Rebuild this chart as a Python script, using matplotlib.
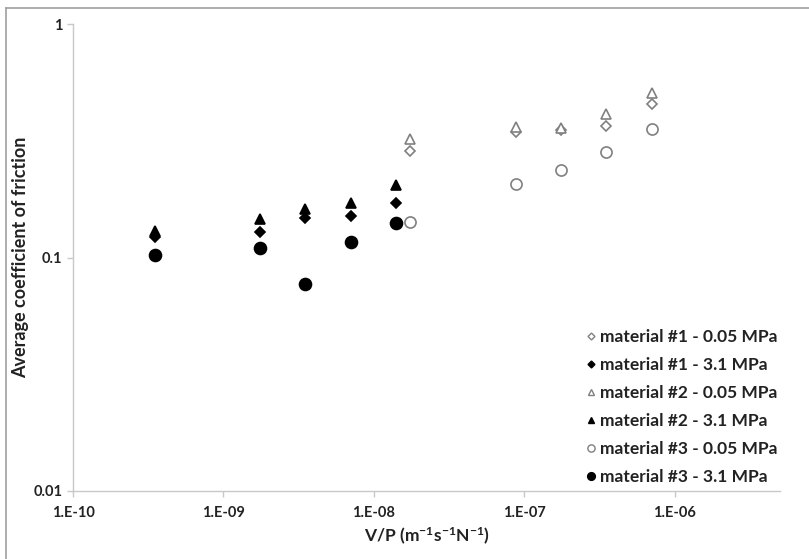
import numpy as np
import matplotlib
matplotlib.use("Agg")
import matplotlib.pyplot as plt
from matplotlib.lines import Line2D
from matplotlib.ticker import FixedLocator, FuncFormatter, NullLocator

# V/P values for the two contact pressures
vp_high = [3.5e-10, 1.75e-9, 3.5e-9, 7e-9, 1.4e-8]    # 3.1 MPa
vp_low = [1.75e-8, 8.75e-8, 1.75e-7, 3.5e-7, 7e-7]   # 0.05 MPa

mat1_low = [0.287, 0.344, 0.352, 0.366, 0.453]
mat1_high = [0.123, 0.128, 0.147, 0.150, 0.171]
mat2_low = [0.321, 0.363, 0.360, 0.412, 0.505]
mat2_high = [0.130, 0.146, 0.161, 0.171, 0.204]
mat3_low = [0.1415, 0.206, 0.237, 0.284, 0.356]
mat3_high = [0.103, 0.1095, 0.077, 0.116, 0.141]

labels = ["material #1 - 0.05 MPa", "material #1 - 3.1 MPa",
          "material #2 - 0.05 MPa", "material #2 - 3.1 MPa",
          "material #3 - 0.05 MPa", "material #3 - 3.1 MPa"]

plt.rcParams['font.family'] = ['Lato', 'DejaVu Sans']
plt.rcParams['mathtext.default'] = 'regular'

fig = plt.figure(figsize=(8.09, 5.59), dpi=100)
ax = fig.add_axes([73 / 809, 1 - 491 / 559, (780 - 73) / 809, (491 - 24) / 559])

gray = '#808080'
series = [
    (vp_low, mat1_low, 'D', 5.4, 'white', gray),
    (vp_high, mat1_high, 'D', 5.4, 'black', 'black'),
    (vp_low, mat2_low, '^', 7.4, 'white', gray),
    (vp_high, mat2_high, '^', 7.4, 'black', 'black'),
    (vp_low, mat3_low, 'o', 8.0, 'white', gray),
    (vp_high, mat3_high, 'o', 8.6, 'black', 'black'),
]
for (x, y, m, ms, fc, ec), lab in zip(series, labels):
    ax.plot(x, y, linestyle='none', marker=m, markersize=ms,
            markerfacecolor=fc, markeredgecolor=ec, markeredgewidth=1.2, label=lab)

ax.set_xscale('log')
ax.set_yscale('log')
ax.set_xlim(1e-10, 5e-6)
ax.set_ylim(0.01, 1)

ax.xaxis.set_major_locator(FixedLocator([1e-10, 1e-9, 1e-8, 1e-7, 1e-6]))
ax.xaxis.set_minor_locator(NullLocator())
ax.xaxis.set_major_formatter(FuncFormatter(lambda v, p: "1.E%03d" % int(round(np.log10(v)))))
ax.yaxis.set_major_locator(FixedLocator([0.01, 0.1, 1]))
ax.yaxis.set_minor_locator(NullLocator())
ax.yaxis.set_major_formatter(FuncFormatter(lambda v, p: "%g" % v))

for s in ['top', 'right']:
    ax.spines[s].set_visible(False)
for s in ['left', 'bottom']:
    ax.spines[s].set_color('#c8c8c8')
    ax.spines[s].set_linewidth(1.0)
ax.tick_params(axis='both', length=4, width=1.0, color='#c8c8c8',
               labelsize=10.5, labelcolor='#222222')
ax.tick_params(axis='x', pad=7)
for t in ax.get_xticklabels() + ax.get_yticklabels():
    t.set_fontweight('bold')

ax.set_xlabel('V/P (m$^{-1}$s$^{-1}$N$^{-1}$)', fontsize=12.5, fontweight='bold', color='#222222')
ax.xaxis.set_label_coords(0.5, -0.075)
ax.set_ylabel('Average coefficient of friction', fontsize=13, fontweight='bold', color='#222222')
ax.yaxis.set_label_coords(-0.062, 0.5)

handles = [Line2D([], [], linestyle='none', marker=m, markersize=ms * 0.65,
                  markerfacecolor=fc, markeredgecolor=ec, markeredgewidth=1.0)
           for (x, y, m, ms, fc, ec) in series]
leg = ax.legend(handles, labels, loc='upper left', frameon=False,
                bbox_to_anchor=(578 / 809, 1 - 320 / 559), bbox_transform=fig.transFigure,
                handlelength=0.5, handletextpad=0.25, labelspacing=0.7,
                borderpad=0, prop={'size': 12.5, 'weight': 'bold'})
for t in leg.get_texts():
    t.set_color('#222222')

# outer chart border (cropped on right and bottom)
fig.add_artist(Line2D([6 / 809, 6 / 809], [0, 1 - 8 / 559], transform=fig.transFigure,
                      color='#a0a0a0', linewidth=1.2))
fig.add_artist(Line2D([6 / 809, 1], [1 - 8 / 559, 1 - 8 / 559], transform=fig.transFigure,
                      color='#a0a0a0', linewidth=1.2))

fig.savefig('out.png', dpi=100)
